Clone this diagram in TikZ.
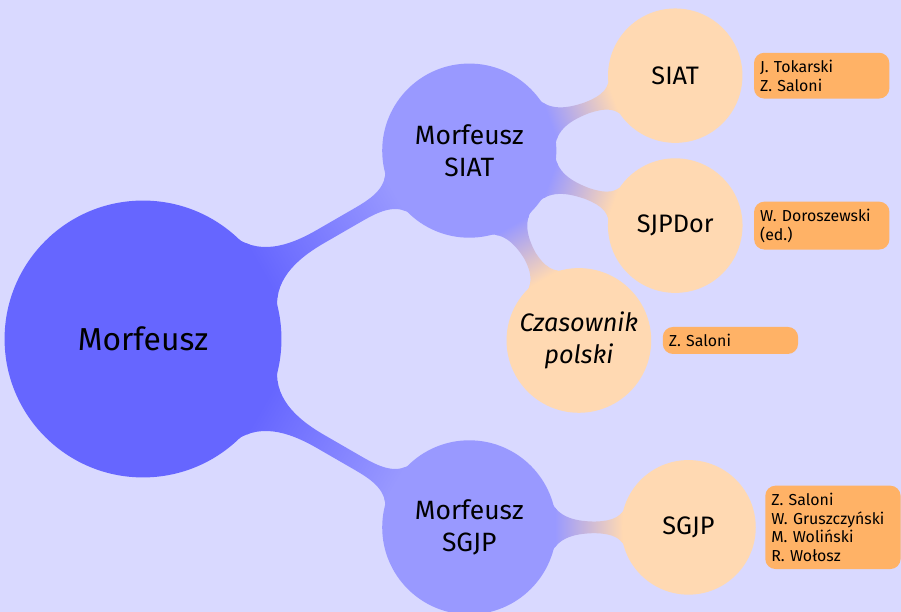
\documentclass[tikz,border=0pt]{standalone}
\usepackage{fontspec}
\setmainfont{Fira Sans}
\usetikzlibrary{mindmap,positioning}

\def\rootsep{5.5cm}
\def\leafsep{3.2cm}

\begin{document}
\begin{tikzpicture}[mindmap]
    \tikzstyle{system}=[concept, concept color=blue!60, text=black, align=center,
        minimum size=4cm, text width=3.5cm, inner sep=0pt, font=\fontsize{13.2}{16}\selectfont]
    \tikzstyle{module}=[concept, concept color=blue!40, text=black, align=center,
        minimum size=2.5cm, text width=2.3cm, inner sep=0pt, font=\fontsize{11}{13}\selectfont]
    \tikzstyle{source}=[concept, concept color=orange!30, text=black, align=center,
        minimum size=1.92cm, text width=1.9cm, inner sep=0pt, font=\fontsize{10.5}{13}\selectfont]
    \tikzstyle{authors}=[rectangle, minimum size=0pt, fill=orange!60, rounded corners=0.15cm,
        text width=1.8cm, inner xsep=2.5pt, inner ysep=3pt, align=left,
        font=\fontsize{6.6}{7.8}\selectfont]

    % Background and page size
    \path[use as bounding box, fill=blue!15] (-2.088,-3.985) rectangle (11.066,4.949);

    % Draw the root
    \node[system] (morf) at (0,0) {Morfeusz};

    % Draw the two analysers
    \node[module] (msiat) at (30:\rootsep) {Morfeusz\\SIAT};
    \node[module] (msgjp) at (-30:\rootsep) {Morfeusz\\SGJP};

    % Draw the dictionaries
    \path (msiat) ++(20:\leafsep) node[source] (siat) {SIAT};
    \path (msiat) ++(-20:\leafsep) node[source] (sjpdor) {SJPDor};
    \path (msiat) ++(-60:\leafsep) node[source] (czas) {\itshape Czasownik\\ \itshape polski};
    \path (msgjp) ++(0:\leafsep) node[source] (sgjp) {SGJP};

    % Connect the root with the analysers
    \foreach \dest in {msiat,msgjp}
        \path (morf) to[circle connection bar switch color=from (blue!60) to (blue!40)] (\dest);

    % Connect the analysers with the dictionaries
    \foreach \dest in {siat,sjpdor,czas}
        \path (msiat) to[circle connection bar switch color=from (blue!40) to (orange!30)] (\dest);
    \path (msgjp) to[circle connection bar switch color=from (blue!40) to (orange!30)] (sgjp);

    % Annotate the dictionaries
    \node[authors, right=0.19cm of siat] (siat-a) {J. Tokarski\\Z. Saloni};
    \node[authors, right=0.19cm of sjpdor] (sjpdor-a) {W. Doroszewski\\(ed.)};
    \node[authors, right=0.19cm of czas] (czas-a) {Z. Saloni};
    \node[authors, right=0.16cm of sgjp] (sgjp-a) {Z. Saloni\\W. Gruszczyński\\M. Woliński\\R. Wołosz};
\end{tikzpicture}
\end{document}
